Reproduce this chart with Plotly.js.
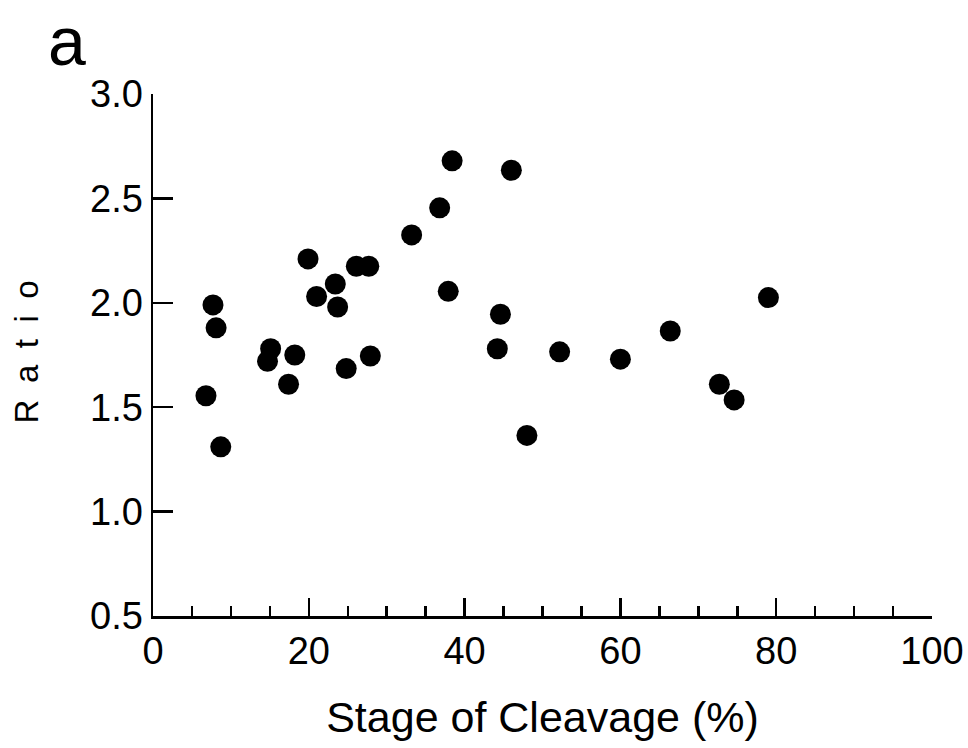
<!DOCTYPE html>
<html>
<head>
<meta charset="utf-8">
<script src="https://cdn.plot.ly/plotly-3.0.1.min.js"></script>
<style>html,body{margin:0;padding:0;background:#fff;}#chart{width:968px;height:748px;}</style>
</head>
<body>
<div id="chart"></div>
<script>
// Stage of cleavage (%) and ratio
const stage = [7.7, 8.1, 6.8, 8.7, 15.1, 14.7, 17.4, 18.2, 19.9, 21.0,
               23.4, 23.7, 24.8, 26.1, 27.7, 27.9, 33.2, 36.8, 38.4, 37.9,
               46.0, 44.6, 44.2, 48.0, 52.2, 60.0, 66.4, 72.7, 74.6, 79.0];
const ratio = [1.99, 1.88, 1.555, 1.31, 1.78, 1.72, 1.61, 1.75, 2.21, 2.03,
               2.09, 1.98, 1.685, 2.175, 2.175, 1.745, 2.325, 2.455, 2.68, 2.055,
               2.635, 1.945, 1.78, 1.365, 1.765, 1.73, 1.865, 1.61, 1.535, 2.025];
const xTickVals = [0, 20, 40, 60, 80, 100];
const xTickText = ['0', '20', '40', '60', '80', '100'];
const yTickVals = [0.5, 1.0, 1.5, 2.0, 2.5, 3.0];
const yTickText = ['0.5', '1.0', '1.5', '2.0', '2.5', '3.0'];
const panelLabel = 'a';
const xTitle = 'Stage of Cleavage (%)';
const yTitle = 'R\u2002a\u2002t\u2002i\u2002o';

const font = 'Liberation Sans, Arial, Helvetica, sans-serif';

const trace = {
  x: stage, y: ratio, type: 'scatter', mode: 'markers',
  marker: {color: '#000', size: 21, line: {width: 0}},
  hoverinfo: 'x+y'
};

const layout = {
  width: 968, height: 748,
  margin: {l: 153, r: 36, t: 94, b: 132},
  paper_bgcolor: '#fff', plot_bgcolor: '#fff',
  showlegend: false,
  font: {family: font, color: '#000', size: 38},
  xaxis: {
    range: [0, 100], tickmode: 'array', tickvals: xTickVals, ticktext: xTickText,
    ticks: 'inside', ticklen: 18, tickwidth: 2.5, tickcolor: '#000',
    minor: {dtick: 5, tick0: 0, ticks: 'inside', ticklen: 10, tickwidth: 2.5, tickcolor: '#000', showgrid: false},
    showline: true, linecolor: '#000', linewidth: 2.5,
    showgrid: false, zeroline: false,
    tickfont: {family: font, size: 38, color: '#000'},
    title: {text: xTitle, font: {family: font, size: 43, color: '#000'}, standoff: 31},
    automargin: false, fixedrange: true
  },
  yaxis: {
    range: [0.5, 3.0], tickmode: 'array', tickvals: yTickVals, ticktext: yTickText,
    ticks: 'inside', ticklen: 20, tickwidth: 2.5, tickcolor: '#000',
    showline: true, linecolor: '#000', linewidth: 2.5,
    showgrid: false, zeroline: false,
    tickfont: {family: font, size: 38, color: '#000'},
    title: {text: ''},
    automargin: false, fixedrange: true
  },
  annotations: [
    {text: panelLabel, xref: 'paper', yref: 'paper', x: -0.110, y: 1.178, xanchor: 'center', yanchor: 'top',
     showarrow: false, font: {family: font, size: 68, color: '#000'}},
    {text: yTitle, xref: 'paper', yref: 'paper', x: -0.163, y: 0.505, xanchor: 'center', yanchor: 'middle',
     textangle: -90, showarrow: false, font: {family: font, size: 33, color: '#000'}}
  ]
};

Plotly.newPlot('chart', [trace], layout, {displayModeBar: false, staticPlot: true});
</script>
</body>
</html>
